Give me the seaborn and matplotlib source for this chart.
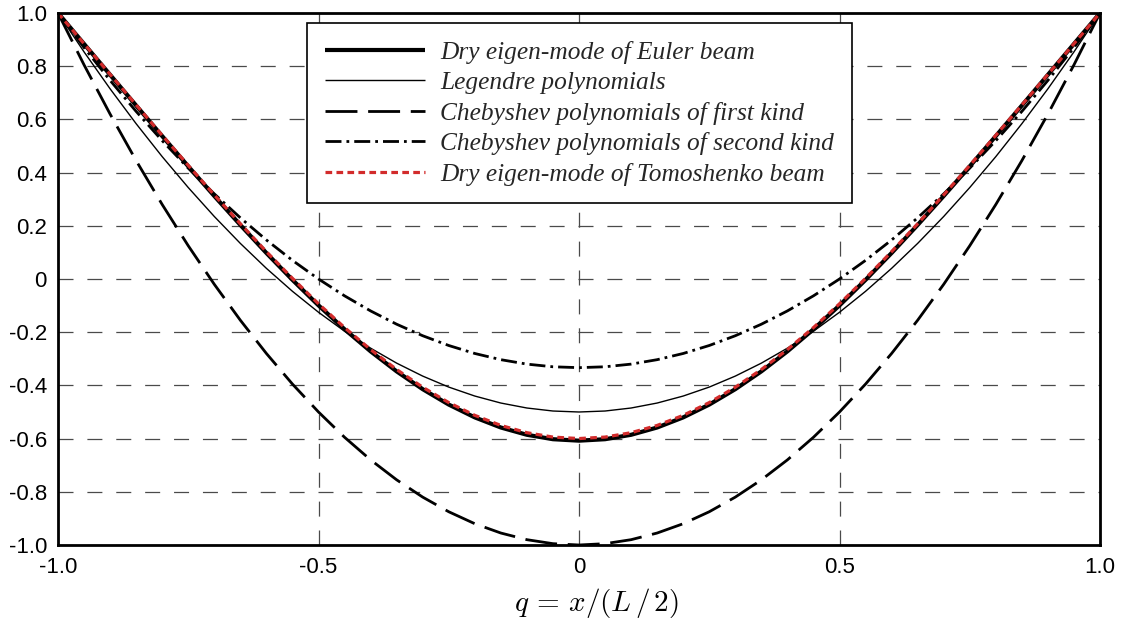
import numpy as np
import pandas as pd
import matplotlib
matplotlib.use("Agg")
import matplotlib.pyplot as plt
import seaborn as sns
from matplotlib.ticker import FixedLocator, FixedFormatter, MultipleLocator

# Normalised coordinate q = x/(L/2)
q = [-1.00, -0.95, -0.90, -0.85, -0.80, -0.75, -0.70, -0.65, -0.60, -0.55,
     -0.50, -0.45, -0.40, -0.35, -0.30, -0.25, -0.20, -0.15, -0.10, -0.05,
     0.00, 0.05, 0.10, 0.15, 0.20, 0.25, 0.30, 0.35, 0.40, 0.45,
     0.50, 0.55, 0.60, 0.65, 0.70, 0.75, 0.80, 0.85, 0.90, 0.95, 1.00]

# Second symmetric mode shapes
euler = [1.0000, 0.8838, 0.7678, 0.6521, 0.5372, 0.4236, 0.3120, 0.2031, 0.0977, -0.0033,
         -0.0992, -0.1890, -0.2720, -0.3473, -0.4142, -0.4721, -0.5203, -0.5583, -0.5857, -0.6023,
         -0.6078, -0.6023, -0.5857, -0.5583, -0.5203, -0.4721, -0.4142, -0.3473, -0.2720, -0.1890,
         -0.0992, -0.0033, 0.0977, 0.2031, 0.3120, 0.4236, 0.5372, 0.6521, 0.7678, 0.8838, 1.0000]

legendre = [1.0000, 0.8538, 0.7150, 0.5838, 0.4600, 0.3438, 0.2350, 0.1338, 0.0400, -0.0463,
            -0.1250, -0.1963, -0.2600, -0.3163, -0.3650, -0.4063, -0.4400, -0.4663, -0.4850, -0.4963,
            -0.5000, -0.4963, -0.4850, -0.4663, -0.4400, -0.4063, -0.3650, -0.3163, -0.2600, -0.1963,
            -0.1250, -0.0463, 0.0400, 0.1338, 0.2350, 0.3438, 0.4600, 0.5838, 0.7150, 0.8538, 1.0000]

cheb1 = [1.000, 0.805, 0.620, 0.445, 0.280, 0.125, -0.020, -0.155, -0.280, -0.395,
         -0.500, -0.595, -0.680, -0.755, -0.820, -0.875, -0.920, -0.955, -0.980, -0.995,
         -1.000, -0.995, -0.980, -0.955, -0.920, -0.875, -0.820, -0.755, -0.680, -0.595,
         -0.500, -0.395, -0.280, -0.155, -0.020, 0.125, 0.280, 0.445, 0.620, 0.805, 1.000]

cheb2 = [1.0000, 0.8700, 0.7467, 0.6300, 0.5200, 0.4167, 0.3200, 0.2300, 0.1467, 0.0700,
         0.0000, -0.0633, -0.1200, -0.1700, -0.2133, -0.2500, -0.2800, -0.3033, -0.3200, -0.3300,
         -0.3333, -0.3300, -0.3200, -0.3033, -0.2800, -0.2500, -0.2133, -0.1700, -0.1200, -0.0633,
         0.0000, 0.0700, 0.1467, 0.2300, 0.3200, 0.4167, 0.5200, 0.6300, 0.7467, 0.8700, 1.0000]

timoshenko = [1.0000, 0.8846, 0.7693, 0.6543, 0.5401, 0.4271, 0.3161, 0.2077, 0.1028, 0.0023,
              -0.0932, -0.1826, -0.2653, -0.3403, -0.4069, -0.4646, -0.5126, -0.5505, -0.5778, -0.5943,
              -0.5998, -0.5943, -0.5778, -0.5505, -0.5126, -0.4646, -0.4069, -0.3403, -0.2653, -0.1826,
              -0.0932, 0.0023, 0.1028, 0.2077, 0.3161, 0.4271, 0.5401, 0.6543, 0.7693, 0.8846, 1.0000]

labels = ["Dry eigen-mode of Euler beam",
          "Legendre polynomials",
          "Chebyshev polynomials of first kind",
          "Chebyshev polynomials of second kind",
          "Dry eigen-mode of Tomoshenko beam"]

xticks = [-1.0, -0.5, 0.0, 0.5, 1.0]
xticklabels = ["-1.0", "-0.5", "0", "0.5", "1.0"]
yticks = [1.0, 0.8, 0.6, 0.4, 0.2, 0.0, -0.2, -0.4, -0.6, -0.8, -1.0]
yticklabels = ["1.0", "0.8", "0.6", "0.4", "0.2", "0", "-0.2", "-0.4", "-0.6", "-0.8", "-1.0"]

sns.set_style("white")
plt.rcParams["font.family"] = ["Liberation Sans", "DejaVu Sans"]
plt.rcParams["axes.unicode_minus"] = False
plt.rcParams["mathtext.fontset"] = "cm"
plt.rcParams["lines.scale_dashes"] = False

df = pd.DataFrame({"q": q * 5,
                   "value": euler + legendre + cheb1 + cheb2 + timoshenko,
                   "series": np.repeat(labels, len(q))})

styles = {
    labels[0]: dict(color="black", lw=3.0, dashes=None),
    labels[1]: dict(color="black", lw=1.0, dashes=None),
    labels[2]: dict(color="black", lw=2.0, dashes=(0, (23, 7.7))),
    labels[3]: dict(color="black", lw=2.0, dashes=(0, (11.5, 3.6, 2.0, 3.6))),
    labels[4]: dict(color="#d22b2b", lw=2.3, dashes=(0, (4.8, 3.1))),
}

fig = plt.figure(figsize=(11.32, 6.21), dpi=100)
ax = fig.add_axes([58 / 1132, 1 - 545 / 621, 1042 / 1132, 532 / 621])

handles = []
for name in labels:
    st = styles[name]
    sub = df[df["series"] == name]
    sns.lineplot(data=sub, x="q", y="value", ax=ax, color=st["color"],
                 linewidth=st["lw"], estimator=None, sort=False, legend=False,
                 zorder=3)
    line = ax.lines[-1]
    if st["dashes"] is not None:
        line.set_linestyle(st["dashes"])
    line.set_solid_capstyle("butt")
    line.set_dash_capstyle("butt")
    handles.append(line)

ax.set_xlim(-1, 1)
ax.set_ylim(-1, 1)
ax.xaxis.set_major_locator(FixedLocator(xticks))
ax.xaxis.set_major_formatter(FixedFormatter(xticklabels))
ax.xaxis.set_minor_locator(MultipleLocator(0.1))
ax.yaxis.set_major_locator(FixedLocator(yticks))
ax.yaxis.set_major_formatter(FixedFormatter(yticklabels))
ax.yaxis.set_minor_locator(MultipleLocator(0.04))

ax.tick_params(axis="both", which="major", direction="in", length=9.4, width=2.0,
               labelsize=16, color="black", labelcolor="black")
ax.tick_params(axis="x", which="major", pad=8.5)
ax.tick_params(axis="y", which="major", pad=8)
ax.tick_params(axis="both", which="minor", direction="in", length=6, width=1.0,
               color="#333333")

ax.set_axisbelow(True)
ax.grid(True, which="major", color="#4a4a4a", lw=0.9, linestyle=(0, (10.8, 10)))

for sp in ax.spines.values():
    sp.set_visible(True)
    sp.set_linewidth(2.0)
    sp.set_color("black")
    sp.set_zorder(5)

ax.set_xlabel(r"$q\,{=}\,x/(L\,/\,2)$", fontsize=21, color="black")
ax.xaxis.set_label_coords(0.517, -0.078)
ax.set_ylabel("")

leg = ax.legend(handles, labels, loc="upper left", bbox_to_anchor=(0.239, 0.981),
                borderaxespad=0, frameon=True, fancybox=False, framealpha=1,
                edgecolor="black", handlelength=3.94, handletextpad=0.6,
                labelspacing=0.295, borderpad=0.7,
                prop=dict(family="Liberation Serif", style="italic", size=18.3))
leg.get_frame().set_linewidth(1.2)
leg.set_zorder(6)

fig.savefig("out.png", dpi=100, facecolor="white")
